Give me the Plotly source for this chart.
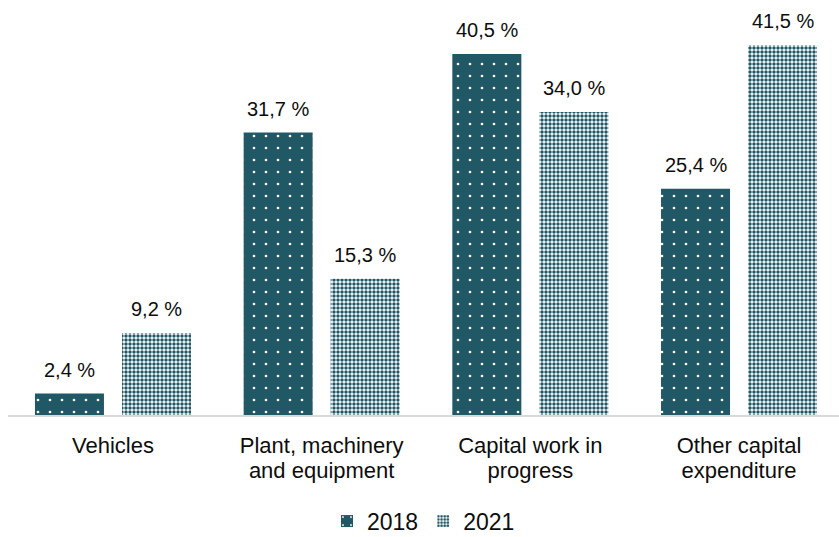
import plotly.graph_objects as go

categories = ["Vehicles", "Plant, machinery and equipment", "Capital work in progress", "Other capital expenditure"]
label_line1 = ["Vehicles", "Plant, machinery", "Capital work in", "Other capital"]
label_line2 = ["", "and equipment", "progress", "expenditure"]
series_names = ["2018", "2021"]
values_2018 = [2.4, 31.7, 40.5, 25.4]
values_2021 = [9.2, 15.3, 34.0, 41.5]

TEAL = "#215866"
TXT = "#0d0d0d"
FONT = "Liberation Sans, Arial, sans-serif"

def fmt(v):
    return f"{v:.1f}".replace(".", ",") + " %"

fig = go.Figure()
fig.add_trace(go.Bar(
    name=series_names[0], x=categories, y=values_2018,
    marker=dict(color=TEAL, line=dict(width=0),
                pattern=dict(shape=".", bgcolor=TEAL, fgcolor="white", size=12, solidity=0.04, fillmode="replace")),
))
fig.add_trace(go.Bar(
    name=series_names[1], x=categories, y=values_2021,
    marker=dict(color=TEAL, line=dict(width=0),
                pattern=dict(shape=".", bgcolor="white", fgcolor=TEAL, size=4, solidity=0.6, fillmode="replace")),
))
# invisible helper trace so the second label axis knows the categories
fig.add_trace(go.Scatter(x=categories, y=values_2018, xaxis="x2", mode="markers",
                         marker=dict(opacity=0), showlegend=False, hoverinfo="skip"))

annotations = []
for vals, shift in [(values_2018, -43.5), (values_2021, 43.5)]:
    for c, v in zip(categories, vals):
        annotations.append(dict(x=c, y=v, xref="x", yref="y", text=fmt(v), showarrow=False,
                                xshift=shift, yshift=11, yanchor="bottom",
                                font=dict(size=20, color=TXT, family=FONT)))

fig.update_layout(
    width=839, height=537,
    margin=dict(l=8, r=0, t=10, b=122, autoexpand=False),
    paper_bgcolor="white", plot_bgcolor="white",
    barmode="group", bargap=0.166, bargroupgap=0.207,
    font=dict(family=FONT, size=20, color=TXT),
    showlegend=True,
    legend=dict(orientation="h", x=0.5, xanchor="center", y=-0.262, yanchor="middle",
                font=dict(size=23, color=TXT), itemwidth=30),
    annotations=annotations,
    xaxis=dict(range=[-0.503, 3.479], showline=True, linecolor="#d9d9d9", linewidth=1.5,
               ticks="", showgrid=False, tickfont=dict(size=22, color=TXT), ticklabelstandoff=10,
               tickmode="array", tickvals=categories, ticktext=label_line1, automargin=False),
    xaxis2=dict(overlaying="x", side="bottom", anchor="y", range=[-0.503, 3.479], showline=False,
                ticks="", showgrid=False, tickfont=dict(size=22, color=TXT), ticklabelstandoff=40,
                tickmode="array", tickvals=categories, ticktext=label_line2, zeroline=False,
                automargin=False),
    yaxis=dict(range=[0, 45.45], visible=False, showgrid=False, automargin=False),
)

fig.write_html("out.html")
